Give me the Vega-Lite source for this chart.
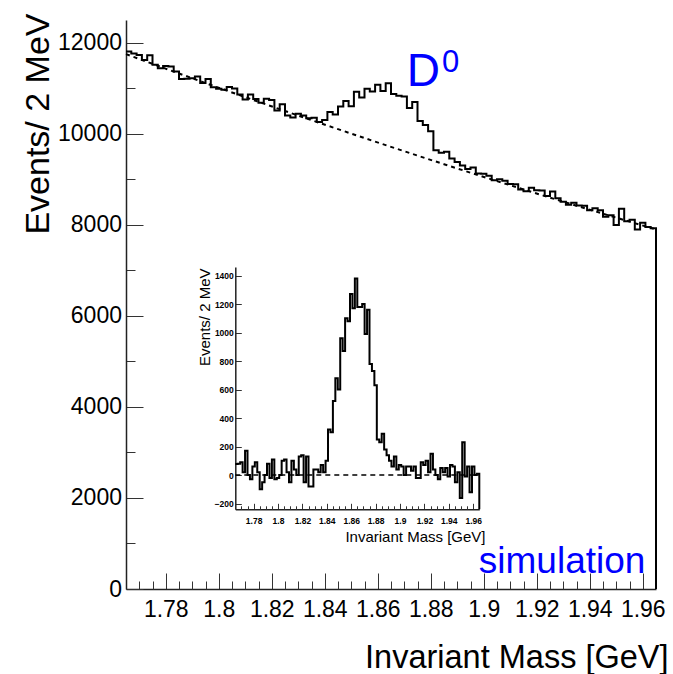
{
  "$schema": "https://vega.github.io/schema/vega-lite/v6.json",
  "width": 530,
  "height": 569,
  "autosize": {"type": "none"},
  "padding": {"left": 126, "top": 20, "right": 17, "bottom": 85},
  "background": "white",
  "config": {"view": {"stroke": null}, "font": "Liberation Sans", "axis": {"grid": false}},
  "datasets": {
    "main": [
      {"k":0,"x":1.765,"y":11806},{"k":1,"x":1.767,"y":11766},{"k":2,"x":1.769,"y":11733},{"k":3,"x":1.771,"y":11620},{"k":4,"x":1.773,"y":11727},
      {"k":5,"x":1.775,"y":11515},{"k":6,"x":1.777,"y":11442},{"k":7,"x":1.779,"y":11490},{"k":8,"x":1.781,"y":11478},{"k":9,"x":1.783,"y":11366},
      {"k":10,"x":1.785,"y":11204},{"k":11,"x":1.787,"y":11212},{"k":12,"x":1.789,"y":11220},{"k":13,"x":1.791,"y":11258},{"k":14,"x":1.793,"y":11116},
      {"k":15,"x":1.795,"y":11204},{"k":16,"x":1.797,"y":11023},{"k":17,"x":1.799,"y":10991},{"k":18,"x":1.801,"y":10970},{"k":19,"x":1.803,"y":11029},
      {"k":20,"x":1.805,"y":10997},{"k":21,"x":1.807,"y":10866},{"k":22,"x":1.809,"y":10755},{"k":23,"x":1.811,"y":10864},{"k":24,"x":1.813,"y":10764},
      {"k":25,"x":1.815,"y":10683},{"k":26,"x":1.817,"y":10772},{"k":27,"x":1.819,"y":10742},{"k":28,"x":1.821,"y":10511},{"k":29,"x":1.823,"y":10651},
      {"k":30,"x":1.825,"y":10400},{"k":31,"x":1.827,"y":10360},{"k":32,"x":1.829,"y":10440},{"k":33,"x":1.831,"y":10400},{"k":34,"x":1.833,"y":10340},
      {"k":35,"x":1.835,"y":10350},{"k":36,"x":1.837,"y":10261},{"k":37,"x":1.839,"y":10301},{"k":38,"x":1.841,"y":10481},{"k":39,"x":1.843,"y":10422},
      {"k":40,"x":1.845,"y":10602},{"k":41,"x":1.847,"y":10723},{"k":42,"x":1.849,"y":10604},{"k":43,"x":1.851,"y":10925},{"k":44,"x":1.853,"y":10796},
      {"k":45,"x":1.855,"y":10987},{"k":46,"x":1.857,"y":10928},{"k":47,"x":1.859,"y":11079},{"k":48,"x":1.861,"y":10940},{"k":49,"x":1.863,"y":11112},
      {"k":50,"x":1.865,"y":10873},{"k":51,"x":1.867,"y":10835},{"k":52,"x":1.869,"y":10817},{"k":53,"x":1.871,"y":10568},{"k":54,"x":1.873,"y":10700},
      {"k":55,"x":1.875,"y":10282},{"k":56,"x":1.877,"y":10194},{"k":57,"x":1.879,"y":10056},{"k":58,"x":1.881,"y":9639},{"k":59,"x":1.883,"y":9581},
      {"k":60,"x":1.885,"y":9603},{"k":61,"x":1.887,"y":9456},{"k":62,"x":1.889,"y":9378},{"k":63,"x":1.891,"y":9301},{"k":64,"x":1.893,"y":9224},
      {"k":65,"x":1.895,"y":9257},{"k":66,"x":1.897,"y":9130},{"k":67,"x":1.899,"y":9123},{"k":68,"x":1.901,"y":9076},{"k":69,"x":1.903,"y":8979},
      {"k":70,"x":1.905,"y":9002},{"k":71,"x":1.907,"y":8966},{"k":72,"x":1.909,"y":8899},{"k":73,"x":1.911,"y":8893},{"k":74,"x":1.913,"y":8776},
      {"k":75,"x":1.915,"y":8740},{"k":76,"x":1.917,"y":8814},{"k":77,"x":1.919,"y":8758},{"k":78,"x":1.921,"y":8752},{"k":79,"x":1.923,"y":8636},
      {"k":80,"x":1.925,"y":8730},{"k":81,"x":1.927,"y":8584},{"k":82,"x":1.929,"y":8509},{"k":83,"x":1.931,"y":8443},{"k":84,"x":1.933,"y":8488},
      {"k":85,"x":1.935,"y":8423},{"k":86,"x":1.937,"y":8417},{"k":87,"x":1.939,"y":8322},{"k":88,"x":1.941,"y":8367},{"k":89,"x":1.943,"y":8322},
      {"k":90,"x":1.945,"y":8177},{"k":91,"x":1.947,"y":8212},{"k":92,"x":1.949,"y":7998},{"k":93,"x":1.951,"y":8353},{"k":94,"x":1.953,"y":8078},
      {"k":95,"x":1.955,"y":8114},{"k":96,"x":1.957,"y":7900},{"k":97,"x":1.959,"y":8045},{"k":98,"x":1.961,"y":7951},{"k":99,"x":1.963,"y":7927},
      {"k":100,"x":1.965,"y":7927},{"k":101,"x":1.965,"y":0}
    ],
    "bg": [
      {"x":1.765,"y":11750},{"x":1.775,"y":11536},{"x":1.785,"y":11325},{"x":1.795,"y":11115},{"x":1.805,"y":10908},
      {"x":1.815,"y":10703},{"x":1.825,"y":10501},{"x":1.835,"y":10300},{"x":1.845,"y":10102},{"x":1.855,"y":9906},
      {"x":1.865,"y":9713},{"x":1.875,"y":9521},{"x":1.885,"y":9332},{"x":1.895,"y":9145},{"x":1.905,"y":8961},
      {"x":1.915,"y":8778},{"x":1.925,"y":8598},{"x":1.935,"y":8420},{"x":1.945,"y":8245},{"x":1.955,"y":8071},{"x":1.965,"y":7900}
    ],
    "inset": [
      {"k":0,"x":1.765,"y":77},{"k":1,"x":1.767,"y":80},{"k":2,"x":1.769,"y":90},{"k":3,"x":1.771,"y":20},{"k":4,"x":1.773,"y":170},
      {"k":5,"x":1.775,"y":0},{"k":6,"x":1.777,"y":-30},{"k":7,"x":1.779,"y":60},{"k":8,"x":1.781,"y":90},{"k":9,"x":1.783,"y":20},
      {"k":10,"x":1.785,"y":-100},{"k":11,"x":1.787,"y":-50},{"k":12,"x":1.789,"y":0},{"k":13,"x":1.791,"y":80},{"k":14,"x":1.793,"y":-20},
      {"k":15,"x":1.795,"y":110},{"k":16,"x":1.797,"y":-30},{"k":17,"x":1.799,"y":-20},{"k":18,"x":1.801,"y":0},{"k":19,"x":1.803,"y":100},
      {"k":20,"x":1.805,"y":110},{"k":21,"x":1.807,"y":20},{"k":22,"x":1.809,"y":-50},{"k":23,"x":1.811,"y":100},{"k":24,"x":1.813,"y":40},
      {"k":25,"x":1.815,"y":0},{"k":26,"x":1.817,"y":130},{"k":27,"x":1.819,"y":140},{"k":28,"x":1.821,"y":-50},{"k":29,"x":1.823,"y":130},
      {"k":30,"x":1.825,"y":-80},{"k":31,"x":1.827,"y":-80},{"k":32,"x":1.829,"y":40},{"k":33,"x":1.831,"y":40},{"k":34,"x":1.833,"y":20},
      {"k":35,"x":1.835,"y":70},{"k":36,"x":1.837,"y":20},{"k":37,"x":1.839,"y":100},{"k":38,"x":1.841,"y":320},{"k":39,"x":1.843,"y":300},
      {"k":40,"x":1.845,"y":520},{"k":41,"x":1.847,"y":680},{"k":42,"x":1.849,"y":600},{"k":43,"x":1.851,"y":960},{"k":44,"x":1.853,"y":870},
      {"k":45,"x":1.855,"y":1100},{"k":46,"x":1.857,"y":1080},{"k":47,"x":1.859,"y":1270},{"k":48,"x":1.861,"y":1170},{"k":49,"x":1.863,"y":1380},
      {"k":50,"x":1.865,"y":1180},{"k":51,"x":1.867,"y":1180},{"k":52,"x":1.869,"y":1200},{"k":53,"x":1.871,"y":990},{"k":54,"x":1.873,"y":1160},
      {"k":55,"x":1.875,"y":780},{"k":56,"x":1.877,"y":730},{"k":57,"x":1.879,"y":630},{"k":58,"x":1.881,"y":250},{"k":59,"x":1.883,"y":230},
      {"k":60,"x":1.885,"y":290},{"k":61,"x":1.887,"y":180},{"k":62,"x":1.889,"y":140},{"k":63,"x":1.891,"y":100},{"k":64,"x":1.893,"y":60},
      {"k":65,"x":1.895,"y":130},{"k":66,"x":1.897,"y":40},{"k":67,"x":1.899,"y":70},{"k":68,"x":1.901,"y":60},{"k":69,"x":1.903,"y":0},
      {"k":70,"x":1.905,"y":60},{"k":71,"x":1.907,"y":60},{"k":72,"x":1.909,"y":30},{"k":73,"x":1.911,"y":60},{"k":74,"x":1.913,"y":-20},
      {"k":75,"x":1.915,"y":-20},{"k":76,"x":1.917,"y":90},{"k":77,"x":1.919,"y":70},{"k":78,"x":1.921,"y":100},{"k":79,"x":1.923,"y":20},
      {"k":80,"x":1.925,"y":150},{"k":81,"x":1.927,"y":40},{"k":82,"x":1.929,"y":0},{"k":83,"x":1.931,"y":-30},{"k":84,"x":1.933,"y":50},
      {"k":85,"x":1.935,"y":20},{"k":86,"x":1.937,"y":50},{"k":87,"x":1.939,"y":-10},{"k":88,"x":1.941,"y":70},{"k":89,"x":1.943,"y":60},
      {"k":90,"x":1.945,"y":-50},{"k":91,"x":1.947,"y":20},{"k":92,"x":1.949,"y":-160},{"k":93,"x":1.951,"y":230},{"k":94,"x":1.953,"y":-10},
      {"k":95,"x":1.955,"y":60},{"k":96,"x":1.957,"y":-120},{"k":97,"x":1.959,"y":60},{"k":98,"x":1.961,"y":0},{"k":99,"x":1.963,"y":10},
      {"k":100,"x":1.965,"y":10},{"k":101,"x":1.965,"y":-240}
    ],
    "zero": [{"x":1.765,"y":0},{"x":1.965,"y":0}]
  },
  "layer": [
    {
      "layer": [
        {
          "data": {"name": "main"},
          "mark": {"type": "line", "interpolate": "step-after", "color": "black", "strokeWidth": 2},
          "encoding": {
            "x": {
              "field": "x", "type": "quantitative",
              "scale": {"domain": [1.765, 1.965], "nice": false, "zero": false},
              "axis": {
                "orient": "bottom",
                "title": "Invariant Mass [GeV]",
                "values": [1.78,1.8,1.82,1.84,1.86,1.88,1.9,1.92,1.94,1.96],
                "format": ".3~g",
                "tickSize": -16,
                "tickColor": "#333", "tickWidth": 1,
                "domainColor": "#222", "domainWidth": 1.5,
                "labelFont": "Liberation Sans", "labelFontSize": 23, "labelColor": "black",
                "labelPadding": 25, "labelOverlap": false, "labelFlush": false,
                "titleFont": "Liberation Sans", "titleFontSize": 32.5, "titleFontWeight": "normal", "titleColor": "black",
                "titleX": 542, "titleY": 78, "titleAlign": "right", "titleBaseline": "alphabetic", "titleAnchor": null
              }
            },
            "y": {
              "field": "y", "type": "quantitative",
              "scale": {"domain": [0, 12500], "nice": false},
              "axis": {
                "orient": "left",
                "title": "Events/ 2 MeV",
                "values": [0,500,1000,1500,2000,2500,3000,3500,4000,4500,5000,5500,6000,6500,7000,7500,8000,8500,9000,9500,10000,10500,11000,11500,12000],
                "format": "d",
                "labelExpr": "datum.value % 2000 === 0 ? datum.label : ''",
                "tickSize": {"condition": {"test": "datum.value % 2000 === 0", "value": -17}, "value": -9},
                "tickColor": "#333", "tickWidth": 1,
                "domainColor": "#222", "domainWidth": 1.5,
                "labelFont": "Liberation Sans", "labelFontSize": 23, "labelColor": "black",
                "labelPadding": 21.5, "labelOverlap": false, "labelFlush": false,
                "titleFont": "Liberation Sans", "titleFontSize": 34, "titleFontWeight": "normal", "titleColor": "black",
                "titleAngle": 270, "titleX": -88, "titleY": -7, "titleAlign": "right", "titleBaseline": "middle", "titleAnchor": null
              }
            },
            "order": {"field": "k", "type": "quantitative"}
          }
        },
        {
          "data": {"name": "bg"},
          "mark": {"type": "line", "color": "black", "strokeWidth": 2, "strokeDash": [4, 4]},
          "encoding": {
            "x": {"field": "x", "type": "quantitative"},
            "y": {"field": "y", "type": "quantitative"}
          }
        },
        {
          "data": {"values": [{"x": 1.8709, "y": 11041, "t": "D"}]},
          "mark": {"type": "text", "align": "left", "baseline": "alphabetic", "fontSize": 46, "color": "#0000ff", "font": "Liberation Sans"},
          "encoding": {
            "x": {"field": "x", "type": "quantitative"},
            "y": {"field": "y", "type": "quantitative"},
            "text": {"field": "t"}
          }
        },
        {
          "data": {"values": [{"x": 1.8842, "y": 11349, "t": "0"}]},
          "mark": {"type": "text", "align": "left", "baseline": "alphabetic", "fontSize": 31, "color": "#0000ff", "font": "Liberation Sans"},
          "encoding": {
            "x": {"field": "x", "type": "quantitative"},
            "y": {"field": "y", "type": "quantitative"},
            "text": {"field": "t"}
          }
        },
        {
          "data": {"values": [{"x": 1.961, "y": 351, "t": "simulation"}]},
          "mark": {"type": "text", "align": "right", "baseline": "alphabetic", "fontSize": 37, "color": "#0000ff", "font": "Liberation Sans"},
          "encoding": {
            "x": {"field": "x", "type": "quantitative"},
            "y": {"field": "y", "type": "quantitative"},
            "text": {"field": "t"}
          }
        }
      ]
    },
    {
      "layer": [
        {
          "data": {"name": "inset"},
          "mark": {"type": "line", "interpolate": "step-after", "color": "black", "strokeWidth": 2},
          "encoding": {
            "x": {
              "field": "x", "type": "quantitative",
              "scale": {"domain": [1.765, 1.965], "range": [109.3, 353.3], "nice": false, "zero": false},
              "axis": {
                "orient": "bottom", "offset": -79.7,
                "title": "Invariant Mass [GeV]",
                "values": [1.78,1.8,1.82,1.84,1.86,1.88,1.9,1.92,1.94,1.96],
                "format": ".3~g",
                "tickSize": -6,
                "tickColor": "#333", "tickWidth": 1,
                "domainColor": "#222", "domainWidth": 1.5,
                "labelFont": "Liberation Sans", "labelFontSize": 8.5, "labelFontWeight": "bold", "labelColor": "black",
                "labelPadding": 13, "labelOverlap": false, "labelFlush": false,
                "titleFont": "Liberation Sans", "titleFontSize": 15, "titleFontWeight": "normal", "titleColor": "black",
                "titleX": 359, "titleY": 31.7, "titleAlign": "right", "titleBaseline": "alphabetic", "titleAnchor": null
              }
            },
            "y": {
              "field": "y", "type": "quantitative",
              "scale": {"domain": [-240, 1460], "range": [489.3, 247], "nice": false, "zero": false},
              "axis": {
                "orient": "left", "offset": -109.3,
                "title": "Events/ 2 MeV",
                "values": [-200,-150,-100,-50,0,50,100,150,200,250,300,350,400,450,500,550,600,650,700,750,800,850,900,950,1000,1050,1100,1150,1200,1250,1300,1350,1400,1450],
                "format": "d",
                "labelExpr": "datum.value % 200 === 0 ? datum.label : ''",
                "tickSize": {"condition": {"test": "datum.value % 200 === 0", "value": -6}, "value": -3.5},
                "tickColor": "#333", "tickWidth": 1,
                "domainColor": "#222", "domainWidth": 1.5,
                "labelFont": "Liberation Sans", "labelFontSize": 8.5, "labelFontWeight": "bold", "labelColor": "black",
                "labelPadding": 8, "labelOverlap": false, "labelFlush": false,
                "titleFont": "Liberation Sans", "titleFontSize": 15, "titleFontWeight": "normal", "titleColor": "black",
                "titleAngle": 270, "titleX": -31, "titleY": 248, "titleAlign": "right", "titleBaseline": "middle", "titleAnchor": null
              }
            },
            "order": {"field": "k", "type": "quantitative"}
          }
        },
        {
          "data": {"name": "zero"},
          "mark": {"type": "line", "color": "black", "strokeWidth": 1.5, "strokeDash": [5, 4]},
          "encoding": {
            "x": {"field": "x", "type": "quantitative"},
            "y": {"field": "y", "type": "quantitative"}
          }
        }
      ]
    },
    {
      "data": {"name": "zero"},
      "mark": {"type": "rule", "opacity": 0},
      "encoding": {
        "x": {
          "field": "x", "type": "quantitative",
          "scale": {"domain": [1.765, 1.965], "nice": false, "zero": false},
          "axis": {
            "orient": "bottom", "title": null, "labels": false, "domain": false,
            "values": [1.77,1.775,1.785,1.79,1.795,1.805,1.81,1.815,1.825,1.83,1.835,1.845,1.85,1.855,1.865,1.87,1.875,1.885,1.89,1.895,1.905,1.91,1.915,1.925,1.93,1.935,1.945,1.95,1.955],
            "tickSize": -8, "tickColor": "#333", "tickWidth": 1
          }
        }
      }
    },
    {
      "data": {"name": "zero"},
      "mark": {"type": "rule", "opacity": 0},
      "encoding": {
        "x": {
          "field": "x", "type": "quantitative",
          "scale": {"domain": [1.765, 1.965], "range": [109.3, 353.3], "nice": false, "zero": false},
          "axis": {
            "orient": "bottom", "offset": -79.7, "title": null, "labels": false, "domain": false,
            "values": [1.77,1.775,1.785,1.79,1.795,1.805,1.81,1.815,1.825,1.83,1.835,1.845,1.85,1.855,1.865,1.87,1.875,1.885,1.89,1.895,1.905,1.91,1.915,1.925,1.93,1.935,1.945,1.95,1.955],
            "tickSize": -3.5, "tickColor": "#333", "tickWidth": 1
          }
        }
      }
    }
  ],
  "resolve": {"scale": {"x": "independent", "y": "independent"}, "axis": {"x": "independent", "y": "independent"}}
}
